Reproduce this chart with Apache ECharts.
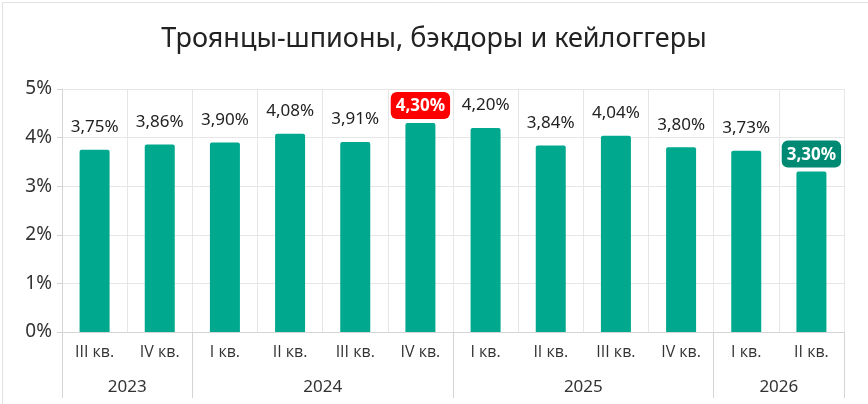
<!DOCTYPE html>
<html>
<head>
<meta charset="utf-8">
<script src="https://cdn.jsdelivr.net/npm/echarts@6/dist/echarts.min.js"></script>
<style>
  html, body { margin: 0; padding: 0; background: #fff; }
  #chart { width: 868px; height: 404px; }
</style>
</head>
<body>
<div id="chart"></div>
<script>
// data
var quarters = ["III кв.", "IV кв.", "I кв.", "II кв.", "III кв.", "IV кв.", "I кв.", "II кв.", "III кв.", "IV кв.", "I кв.", "II кв."];
var shares = [3.75, 3.86, 3.90, 4.08, 3.91, 4.30, 4.20, 3.84, 4.04, 3.80, 3.73, 3.30];
var years = ["2023", "2024", "2025", "2026"];
var yearSpans = [2, 4, 4, 2]; // quarters per year

var FONT = "'Noto Sans', 'DejaVu Sans', sans-serif";
var QFONT = "'Open Sans', 'Noto Sans', sans-serif";
var peakIdx = shares.indexOf(Math.max.apply(null, shares));
var lastIdx = shares.length - 1;

function fmt(v) { return v.toFixed(2).replace(".", ",") + "%"; }

// year separators and centres on a 0..N value scale
var yearEdges = [0], yearMids = [], acc = 0;
yearSpans.forEach(function (n) { yearMids.push(acc + n / 2); acc += n; yearEdges.push(acc); });

var barData = shares.map(function (v, i) {
  var item = { value: v };
  if (i === peakIdx || i === lastIdx) {
    item.label = {
      color: "#fff", fontWeight: "bold", fontSize: 17,
      backgroundColor: i === peakIdx ? "#ff0000" : "#008a73",
      borderRadius: 6, padding: [6, 5, 4, 5], distance: 4
    };
  }
  return item;
});

var dom = document.getElementById("chart"), myChart = echarts.init(dom);
var option = {
  backgroundColor: "#fff",
  animation: false,
  textStyle: { fontFamily: FONT },
  title: {
    text: "Троянцы-шпионы, бэкдоры и кейлоггеры",
    left: "center", top: 21,
    textStyle: { fontFamily: FONT, fontSize: 27, fontWeight: "normal", color: "#222" }
  },
  graphic: [{
    type: "rect", left: 0, top: 0, silent: true,
    shape: { width: 867, height: 403 },
    style: { fill: "none", stroke: "#e2e2e2", lineWidth: 1 }
  }],
  grid: { left: 62, right: 24, top: 89, bottom: 72 },
  xAxis: [{
    type: "category",
    data: quarters,
    axisLine: { lineStyle: { color: "#d4d4d4" } },
    axisTick: { alignWithLabel: true, length: 5, lineStyle: { color: "#d4d4d4" } },
    axisLabel: { fontSize: 16, color: "#333", margin: 12, fontFamily: QFONT },
    splitLine: { show: true, lineStyle: { color: "#e6e6e6" } }
  }, {
    type: "value",
    position: "bottom",
    min: 0, max: quarters.length,
    axisLine: { show: false },
    splitLine: { show: false },
    axisTick: { show: true, customValues: yearEdges, length: 66, lineStyle: { color: "#d4d4d4" } },
    axisLabel: {
      customValues: yearMids, margin: 47, fontSize: 17, color: "#333", fontFamily: FONT,
      formatter: function (v) { return years[yearMids.indexOf(v)] || ""; }
    }
  }],
  yAxis: {
    type: "value",
    min: 0, max: 5, interval: 1,
    axisLine: { show: true, lineStyle: { color: "#d4d4d4" } },
    axisTick: { show: true, length: 5, lineStyle: { color: "#d4d4d4" } },
    axisLabel: { formatter: "{value}%", fontSize: 19, color: "#333", margin: 10, fontFamily: FONT },
    splitLine: { lineStyle: { color: "#e6e6e6" } }
  },
  series: [{
    type: "bar",
    xAxisIndex: 0,
    data: barData,
    barWidth: 30,
    itemStyle: { color: "#00a88e", borderRadius: [2, 2, 0, 0] },
    label: {
      show: true, position: "top", distance: 14,
      fontSize: 17, color: "#222", fontFamily: FONT,
      formatter: function (p) { return fmt(p.value); }
    }
  }]
};
myChart.setOption(option);
</script>
</body>
</html>
